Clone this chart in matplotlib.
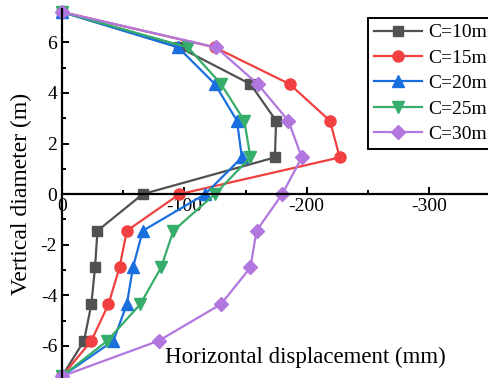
import matplotlib.pyplot as plt
from matplotlib.ticker import MultipleLocator

plt.rcParams['font.family'] = 'Liberation Serif'

depth = [7.2, 5.8, 4.35, 2.9, 1.45, 0, -1.45, -2.9, -4.35, -5.8, -7.2]
c10 = [0, -96, -154, -175, -174, -66, -29, -27, -24, -18, 0]
c15 = [0, -125, -186, -219, -227, -96, -53, -47, -38, -24, 0]
c20 = [0, -95, -125, -143, -147, -117, -66, -58, -53, -42, 0]
c25 = [0, -103, -130, -149, -154, -125, -91, -81, -64, -37, 0]
c30 = [0, -126, -160, -185, -196, -180, -159, -154, -130, -79, 0]

labels = ['C=10m', 'C=15m', 'C=20m', 'C=25m', 'C=30m']
colors = ['#515151', '#F14040', '#1A6FDF', '#37AD6B', '#B177DE']
markers = ['s', 'o', '^', 'v', 'D']
sizes = [7.5, 8, 8, 8, 7]

fig = plt.figure(figsize=(4.89, 3.78), dpi=100)
ax = fig.add_axes([62 / 489, -0.002, 1 - 62 / 489, 0.977])

for xs, lab, col, mk, ms in zip([c10, c15, c20, c25, c30], labels, colors, markers, sizes):
    ax.plot(xs, depth, color=col, marker=mk, markersize=ms, linewidth=1.6, label=lab, clip_on=False)

ax.set_xlim(0, -349)
ax.set_ylim(-7.3, 7.3)

# axes crossing at y=0
ax.spines['top'].set_visible(False)
ax.spines['right'].set_visible(False)
ax.spines['bottom'].set_position(('data', 0))
ax.spines['bottom'].set_linewidth(1.6)
ax.spines['left'].set_linewidth(1.6)

ax.xaxis.set_minor_locator(MultipleLocator(50))
ax.yaxis.set_minor_locator(MultipleLocator(1))
ax.set_xticks([0, -100, -200, -300])
ax.set_xticklabels(['0', '-100', '-200', '-300'])
ax.set_yticks([-6, -4, -2, 0, 2, 4, 6])
ax.set_yticklabels(['-6', '-4', '-2', '0', '2', '4', '6'])
ax.tick_params(which='both', direction='in', width=1.4, labelsize=14)
ax.tick_params(which='major', length=5)
ax.tick_params(which='minor', length=3)
ax.tick_params(axis='x', pad=3)

ax.set_ylabel('Vertical diameter (m)', fontsize=17, labelpad=6)
fig.text(305 / 489, 1 - 357 / 378, 'Horizontal displacement (mm)', fontsize=16.5,
         ha='center', va='center')

leg = ax.legend(loc='upper left', bbox_to_anchor=(368 / 489, 1 - 18 / 378),
                bbox_transform=fig.transFigure, fontsize=14, fancybox=False,
                edgecolor='black', framealpha=1, handlelength=2.5,
                borderaxespad=0, labelspacing=0.4, handletextpad=0.3,
                borderpad=0.3)
leg.get_frame().set_linewidth(1.4)

fig.savefig('out.png', dpi=100)
